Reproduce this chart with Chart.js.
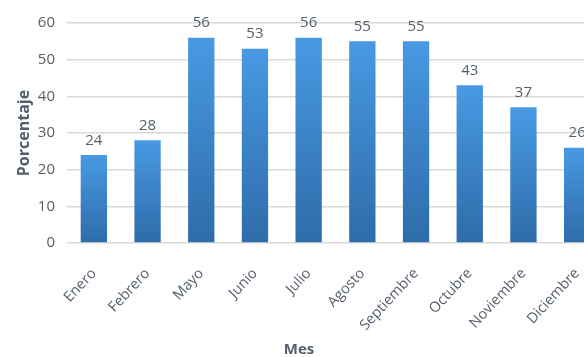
<!DOCTYPE html>
<html>
<head>
<meta charset="utf-8">
<script src="https://cdn.jsdelivr.net/npm/chart.js@4.4.1/dist/chart.umd.min.js"></script>
<style>
  html, body { margin: 0; padding: 0; background: #ffffff; overflow: hidden; }
  #wrap { width: 604px; height: 357px; }
</style>
</head>
<body>
<div id="wrap"><canvas id="chart" width="604" height="357"></canvas></div>
<script>
const months = ["Enero", "Febrero", "Mayo", "Junio", "Julio", "Agosto", "Septiembre", "Octubre", "Noviembre", "Diciembre"];
const percentages = [24, 28, 56, 53, 56, 55, 55, 43, 37, 26];
const yTicks = [0, 10, 20, 30, 40, 50, 60];
const xTitle = "Mes";
const yTitle = "Porcentaje";

const textColor = "#555e6c";
const fontFamily = "'Open Sans', 'Liberation Sans', sans-serif";

function barGradient(context) {
  const chart = context.chart;
  const yScale = chart.scales.y;
  if (!chart.chartArea || !yScale || context.parsed === undefined) return "#3b82cc";
  const top = yScale.getPixelForValue(context.parsed.y);
  const bottom = yScale.getPixelForValue(0);
  if (!isFinite(top) || !isFinite(bottom) || top === bottom) return "#3b82cc";
  const g = chart.ctx.createLinearGradient(0, top, 0, bottom);
  g.addColorStop(0, "#4899e3");
  g.addColorStop(1, "#2e6ca9");
  return g;
}

// values above the bars + the "Mes" title, which sits left of the plot centre
const valueLabels = {
  id: "valueLabels",
  afterDatasetsDraw(chart) {
    const ctx = chart.ctx;
    const meta = chart.getDatasetMeta(0);
    ctx.save();
    ctx.fillStyle = textColor;
    ctx.font = "15px " + fontFamily;
    ctx.textAlign = "center";
    ctx.textBaseline = "bottom";
    meta.data.forEach((bar, i) => {
      ctx.fillText(String(percentages[i]), bar.x, bar.y - 7);
    });
    ctx.font = "bold 15px " + fontFamily;
    ctx.textBaseline = "middle";
    ctx.fillText(xTitle, 299, 350);
    ctx.restore();
  }
};

new Chart(document.getElementById("chart").getContext("2d"), {
  type: "bar",
  data: {
    labels: months,
    datasets: [{
      label: yTitle,
      data: percentages,
      backgroundColor: barGradient,
      borderWidth: 0,
      barPercentage: 0.49,
      categoryPercentage: 1
    }]
  },
  options: {
    responsive: false,
    animation: false,
    layout: { padding: { left: 15, right: 0, top: 23, bottom: 0 } },
    scales: {
      x: {
        grid: { display: false, drawTicks: false },
        border: { display: false },
        afterFit(scale) {
          // fixed band under the plot for the rotated month names and the title
          scale.paddingLeft = 0;
          scale.paddingRight = 0;
          scale.height = 114;
        },
        ticks: {
          color: textColor,
          font: { family: fontFamily, size: 14.5 },
          minRotation: 47,
          maxRotation: 47,
          padding: 22
        }
      },
      y: {
        min: 0,
        max: 60,
        afterBuildTicks(scale) {
          scale.ticks = yTicks.map((v) => ({ value: v }));
        },
        afterFit(scale) {
          scale.width = 52;
        },
        grid: { color: "#d9d9d9", lineWidth: 1.5, drawTicks: false },
        border: { display: false },
        ticks: {
          color: textColor,
          font: { family: fontFamily, size: 15 },
          padding: 12
        },
        title: {
          display: true,
          text: yTitle,
          color: textColor,
          font: { family: fontFamily, size: 16, weight: "bold" },
          padding: { top: 0, bottom: 4 }
        }
      }
    },
    plugins: {
      legend: { display: false },
      tooltip: { enabled: false },
      title: { display: false }
    }
  },
  plugins: [valueLabels]
});
</script>
</body>
</html>
